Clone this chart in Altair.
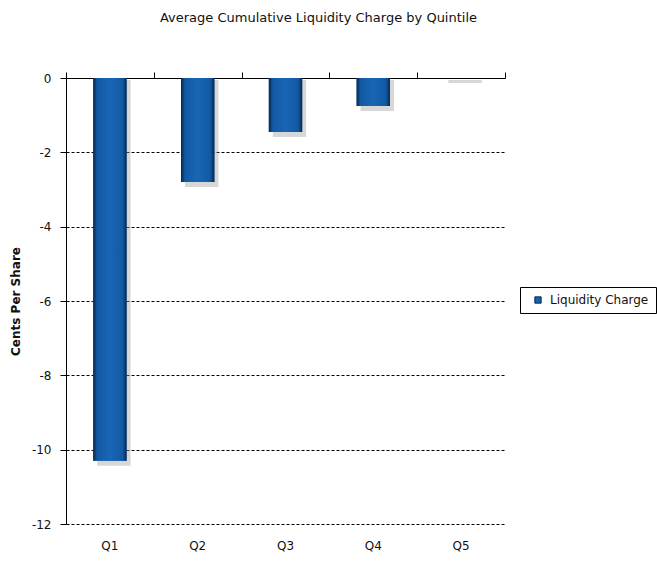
import altair as alt
import pandas as pd

quintiles = ["Q1", "Q2", "Q3", "Q4", "Q5"]
charge = [-10.3, -2.8, -1.45, -0.75, 0.0]
series_name = "Liquidity Charge"
y_ticks = [0, -2, -4, -6, -8, -10, -12]

df = pd.DataFrame({"q": quintiles, "v": charge, "s": [series_name] * len(quintiles)})

FONT = "DejaVu Sans, sans-serif"

bar_scale = alt.Scale(domain=quintiles, paddingInner=0.62, paddingOuter=0.31)
band_scale = alt.Scale(domain=quintiles, paddingInner=0, paddingOuter=0)
yscale = alt.Scale(domain=[-12, 0], nice=False)

x_bottom = alt.X("q:N", title=None, sort=quintiles, scale=bar_scale,
                 axis=alt.Axis(orient="bottom", labelAngle=0, domain=False, ticks=False,
                               grid=False, labelPadding=16, labelFontSize=12,
                               labelColor="#111", labelFont=FONT, labelFontWeight="normal"))
x_noaxis = alt.X("q:N", title=None, sort=quintiles, scale=bar_scale, axis=None)
x_top = alt.X("q:N", title=None, sort=quintiles, scale=band_scale,
              axis=alt.Axis(orient="top", labels=False, domain=True, domainColor="black",
                            domainWidth=1, ticks=True, tickColor="black", tickSize=6,
                            tickBand="extent", grid=False))
y_enc = alt.Y("v:Q", title="Cents Per Share", scale=yscale,
              axis=alt.Axis(values=y_ticks, grid=True, gridDash=[3, 2], gridColor="black",
                            gridWidth=1, gridOpacity=1, domainColor="black", tickColor="black",
                            tickSize=6, labelPadding=9, labelFontSize=12, labelColor="#111",
                            labelFont=FONT, labelExpr="'' + datum.value",
                            titleFont=FONT, titleFontSize=12, titleFontWeight="bold",
                            titleColor="#111", titleX=-51, titleY=223, titleAngle=270,
                            titleAlign="center", titleBaseline="middle"))

gradient = alt.Gradient(
    gradient="linear", x1=0, x2=1, y1=0, y2=0,
    stops=[
        alt.GradientStop(color="#08264a", offset=0),
        alt.GradientStop(color="#1259a3", offset=0.12),
        alt.GradientStop(color="#1966b6", offset=0.5),
        alt.GradientStop(color="#1259a3", offset=0.88),
        alt.GradientStop(color="#08264a", offset=1),
    ],
)

top_axis = alt.Chart(df).mark_point(opacity=0, size=1).encode(x=x_top, y=y_enc)

shadow = alt.Chart(df).mark_bar(color="#9a9a9a", opacity=0.4, xOffset=4,
                                yOffset=5, y2Offset=2).encode(
    x=x_noaxis, y=y_enc, y2=alt.Y2Datum(0))

legend_bars = alt.Chart(df).mark_bar().encode(
    x=x_bottom,
    y=y_enc,
    color=alt.Color("s:N", title=None,
                    scale=alt.Scale(domain=[series_name], range=["#1660ad"]),
                    legend=alt.Legend(orient="none", legendX=454, legendY=209,
                                      strokeColor="black", padding=7, symbolType="square",
                                      symbolSize=40, symbolOffset=5,
                                      symbolStrokeColor="#0a2a50", symbolStrokeWidth=1,
                                      labelOffset=6, labelFont=FONT, labelFontSize=12,
                                      labelColor="#111", fillColor="white")),
)

bars = alt.Chart(df).mark_bar(color=gradient).encode(x=x_noaxis, y=y_enc)

chart = alt.layer(shadow, legend_bars, bars, top_axis).resolve_scale(
    x="independent"
).resolve_axis(x="independent").properties(
    width=439,
    height=446,
    autosize="none",
    padding={"left": 66, "top": 78, "right": 152, "bottom": 41},
    view=alt.ViewBackground(strokeOpacity=0, strokeWidth=0),
    title=alt.Title("Average Cumulative Liquidity Charge by Quintile", font=FONT,
                    fontSize=13, fontWeight="normal", color="#111", anchor="middle",
                    dx=33, offset=47),
).configure_view(stroke="transparent", strokeWidth=0, strokeOpacity=0).configure(
    background="white")

chart.save("out.html", embed_options={"renderer": "svg", "actions": False})
